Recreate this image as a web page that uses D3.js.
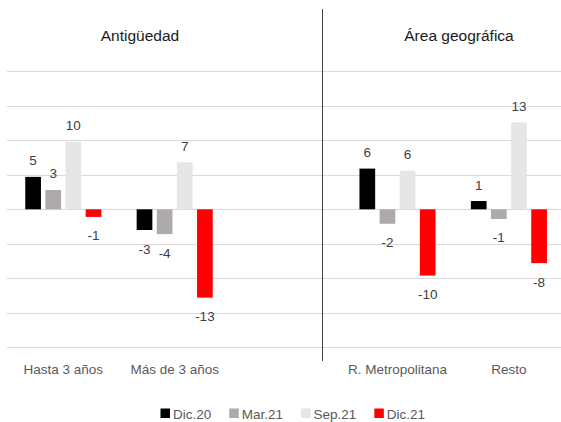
<!DOCTYPE html>
<html>
<head>
<meta charset="utf-8">
<script src="https://cdn.jsdelivr.net/npm/d3@7"></script>
<style>
  body { margin: 0; background: #fff; }
  text { font-family: "Liberation Sans", Arial, sans-serif; }
</style>
</head>
<body>
<div id="chart"></div>
<script>
// categories (a blank slot separates the two panels)
const categories = ["Hasta 3 años", "Más de 3 años", " ", "R. Metropolitana", "Resto"];
const panelTitles = ["Antigüedad", "Área geográfica"];
const seriesNames = ["Dic.20", "Mar.21", "Sep.21", "Dic.21"];

// values per series, in category order (blank slot skipped)
const dic20 = [4.7, -3.0, 5.9, 1.2];
const mar21 = [2.8, -3.6, -2.1, -1.4];
const sep21 = [9.8, 6.8, 5.6, 12.6];
const dic21 = [-1.1, -12.8, -9.6, -7.8];

const yTicks = [-20, -15, -10, -5, 0, 5, 10, 15, 20];

const colors = ["#000000", "#aeaaaa", "#e7e6e6", "#ff0000"];

const realCats = categories.filter(c => c.trim() !== "");
const seriesVals = [dic20, mar21, sep21, dic21];
const rows = [];
realCats.forEach((c, i) => {
  seriesNames.forEach((s, j) => rows.push({ cat: c, series: s, value: seriesVals[j][i] }));
});

const width = 561, height = 422;

const svg = d3.select("#chart").append("svg")
  .attr("width", width)
  .attr("height", height);

const x0 = d3.scaleBand()
  .domain(categories)
  .range([7.6, 564.6])
  .paddingInner(0.317)
  .paddingOuter(0.1585);

const x1 = d3.scaleBand()
  .domain(seriesNames)
  .range([0, x0.bandwidth()])
  .paddingInner(0.22);

const y = d3.scaleLinear()
  .domain([d3.min(yTicks), d3.max(yTicks)])
  .range([347.3, 71.3]);

const color = d3.scaleOrdinal().domain(seriesNames).range(colors);

// gridlines
svg.append("g")
  .selectAll("line")
  .data(yTicks)
  .enter()
  .append("line")
  .attr("x1", 7)
  .attr("x2", width)
  .attr("y1", d => Math.round(y(d)) + 0.5)
  .attr("y2", d => Math.round(y(d)) + 0.5)
  .attr("stroke", "#d9d9d9")
  .attr("stroke-width", 1);

// bars
svg.append("g")
  .selectAll("rect")
  .data(rows)
  .enter()
  .append("rect")
  .attr("x", d => x0(d.cat) + x1(d.series))
  .attr("width", x1.bandwidth())
  .attr("y", d => y(Math.max(0, d.value)))
  .attr("height", d => Math.abs(y(d.value) - y(0)))
  .attr("fill", d => color(d.series));

// data labels
svg.append("g")
  .selectAll("text")
  .data(rows)
  .enter()
  .append("text")
  .attr("x", d => x0(d.cat) + x1(d.series) + x1.bandwidth() / 2)
  .attr("y", d => d.value >= 0 ? y(d.value) - 11.5 : y(d.value) + 23.5)
  .attr("text-anchor", "middle")
  .attr("font-size", "13.5px")
  .attr("fill", "#404040")
  .text(d => String(Math.round(d.value)));

// category axis
const xAxis = svg.append("g")
  .attr("transform", "translate(0,347)")
  .call(d3.axisBottom(x0).tickSize(0).tickPadding(0));
xAxis.select(".domain").remove();
xAxis.selectAll("text")
  .attr("y", 27)
  .attr("dy", 0)
  .attr("font-size", "13.5px")
  .attr("font-family", "Liberation Sans, Arial, sans-serif")
  .attr("fill", "#595959");

// panel divider
svg.append("line")
  .attr("x1", 322.5)
  .attr("x2", 322.5)
  .attr("y1", 9)
  .attr("y2", 361)
  .attr("stroke", "#404040")
  .attr("stroke-width", 1);

// panel titles
svg.selectAll(".title")
  .data(panelTitles)
  .enter()
  .append("text")
  .attr("class", "title")
  .attr("x", (d, i) => i === 0 ? 140 : 459)
  .attr("y", 41)
  .attr("text-anchor", "middle")
  .attr("font-size", "15.5px")
  .attr("fill", "#1a1a1a")
  .text(d => d);

// legend
const legend = svg.append("g");
let lx = 160.5;
seriesNames.forEach((s, i) => {
  legend.append("rect")
    .attr("x", lx)
    .attr("y", 408.5)
    .attr("width", 9.5)
    .attr("height", 9.5)
    .attr("fill", colors[i]);
  const t = legend.append("text")
    .attr("x", lx + 12.5)
    .attr("y", 419)
    .attr("font-size", "13.5px")
    .attr("fill", "#595959")
    .text(s);
  lx += 12.5 + t.node().getComputedTextLength() + 18;
});
</script>
</body>
</html>
